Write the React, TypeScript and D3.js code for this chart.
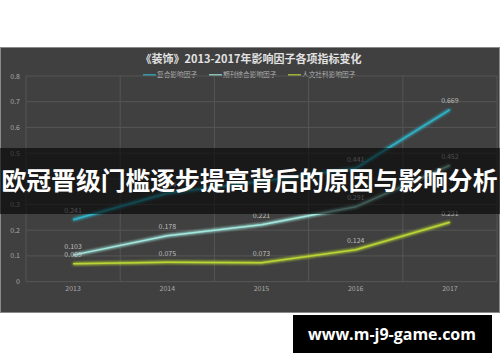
import React, { useEffect, useRef } from 'react';
import * as d3 from 'd3';

const years = ['2013', '2014', '2015', '2016', '2017'];
const seriesNames = ['复合影响因子', '期刊综合影响因子', '人文社科影响因子'];
const compositeIF = [0.241, 0.344, 0.39, 0.441, 0.669];
const journalIF = [0.103, 0.178, 0.221, 0.291, 0.452];
const humanitiesIF = [0.069, 0.075, 0.073, 0.124, 0.231];
const seriesColors = ['#2fb5c9', '#a2e8de', '#b9d636'];
const yTicks = [0, 0.1, 0.2, 0.3, 0.4, 0.5, 0.6, 0.7, 0.8];

const W = 500;
const H = 362;

export default function App() {
  const svgRef = useRef<SVGSVGElement>(null);

  useEffect(() => {
    if (!svgRef.current) return;
    const svg = d3.select(svgRef.current);
    svg.selectAll('*').remove();

    const font = '"Noto Sans CJK SC", "Noto Sans", sans-serif';
    const plot = { left: 26, right: 497, top: 76, bottom: 281.6 };

    const x = d3.scaleBand().domain(years).range([plot.left, plot.right]).padding(0);
    const y = d3.scaleLinear().domain([0, 0.8]).range([plot.bottom, plot.top]);
    const cx = (d: string) => (x(d) as number) + x.bandwidth() / 2;

    // glow filter
    const defs = svg.append('defs');
    const f = defs.append('filter').attr('id', 'glow')
      .attr('x', '-20%').attr('y', '-50%').attr('width', '140%').attr('height', '200%');
    f.append('feGaussianBlur').attr('in', 'SourceGraphic').attr('stdDeviation', 1.8).attr('result', 'b');
    const m = f.append('feMerge');
    m.append('feMergeNode').attr('in', 'b');
    m.append('feMergeNode').attr('in', 'b');
    m.append('feMergeNode').attr('in', 'SourceGraphic');

    svg.append('rect').attr('width', W).attr('height', H).attr('fill', '#ffffff');

    // dark panel
    svg.append('rect')
      .attr('x', 0.5).attr('y', 47.5).attr('width', 499).attr('height', 265)
      .attr('fill', '#404040').attr('stroke', '#8a8a8a').attr('stroke-width', 1);

    // title
    svg.append('text')
      .attr('x', 251).attr('y', 63)
      .attr('text-anchor', 'middle')
      .style('font-family', font).style('font-size', '11px').style('font-weight', 'bold')
      .style('fill', '#e2e2e2')
      .text('《装饰》2013-2017年影响因子各项指标变化');

    // legend
    const legendX = [143, 209, 288];
    seriesNames.forEach((name, i) => {
      const lg = svg.append('g').attr('transform', `translate(${legendX[i]},75)`);
      lg.append('line').attr('x1', 0).attr('x2', 13).attr('y1', 0).attr('y2', 0)
        .attr('stroke', seriesColors[i]).attr('stroke-width', 1.5);
      lg.append('text').attr('x', 14).attr('y', 2.4)
        .style('font-family', font).style('font-size', '6.7px').style('fill', '#b5b5b5')
        .text(name);
    });

    // horizontal grid
    svg.append('g').selectAll('line').data(yTicks).enter().append('line')
      .attr('x1', plot.left).attr('x2', plot.right)
      .attr('y1', d => y(d)).attr('y2', d => y(d))
      .attr('stroke', '#555555').attr('stroke-width', 1);

    // vertical grid
    const bounds = years.map(d => x(d) as number).concat([plot.right]);
    svg.append('g').selectAll('line').data(bounds).enter().append('line')
      .attr('x1', d => d).attr('x2', d => d)
      .attr('y1', plot.top).attr('y2', plot.bottom)
      .attr('stroke', '#555555').attr('stroke-width', 1);

    // y tick labels
    svg.append('g').selectAll('text').data(yTicks).enter().append('text')
      .attr('x', 20).attr('y', d => y(d) + 2.5)
      .attr('text-anchor', 'end')
      .style('font-family', font).style('font-size', '7px').style('fill', '#a8a8a8')
      .text(d => (d === 0 ? '0' : d3.format('.1f')(d)));

    // x tick labels
    svg.append('g').selectAll('text').data(years).enter().append('text')
      .attr('x', d => cx(d)).attr('y', 291)
      .attr('text-anchor', 'middle')
      .style('font-family', font).style('font-size', '7px').style('fill', '#a8a8a8')
      .text(d => d);

    // series lines
    const allSeries = [compositeIF, journalIF, humanitiesIF];
    const line = d3.line<number>()
      .x((_d, i) => cx(years[i]))
      .y(d => y(d));

    allSeries.forEach((vals, i) => {
      svg.append('path')
        .datum(vals)
        .attr('d', line)
        .attr('fill', 'none')
        .attr('stroke', seriesColors[i])
        .attr('stroke-width', 1.5)
        .attr('filter', 'url(#glow)');

      svg.append('g').selectAll('text').data(vals).enter().append('text')
        .attr('x', (_d, j) => cx(years[j]))
        .attr('y', d => y(d) - 6.5)
        .attr('text-anchor', 'middle')
        .style('font-family', font).style('font-size', '7px').style('fill', '#bdbdbd')
        .text(d => d3.format('.3f')(d));
    });

    // overlay banner
    svg.append('rect')
      .attr('x', 0).attr('y', 148).attr('width', W).attr('height', 66)
      .attr('fill', '#000000').attr('opacity', 0.6);
    svg.append('text')
      .attr('x', 249.5).attr('y', 190)
      .attr('text-anchor', 'middle')
      .style('font-family', font).style('font-size', '24.8px').style('font-weight', 'bold')
      .style('fill', '#ffffff')
      .text('欧冠晋级门槛逐步提高背后的原因与影响分析');

    // watermark box
    svg.append('rect')
      .attr('x', 293).attr('y', 315).attr('width', 199).attr('height', 38)
      .attr('fill', '#000000');
    svg.append('text')
      .attr('x', 392).attr('y', 340)
      .attr('text-anchor', 'middle')
      .style('font-family', '"Open Sans", "DejaVu Sans", sans-serif')
      .style('font-size', '16px').style('font-weight', 'bold')
      .style('fill', '#ffffff')
      .text('www.m-j9-game.com');
  }, []);

  return (
    <svg
      ref={svgRef}
      width={W}
      height={H}
      style={{ position: 'absolute', left: 0, top: 0, display: 'block' }}
    />
  );
}
